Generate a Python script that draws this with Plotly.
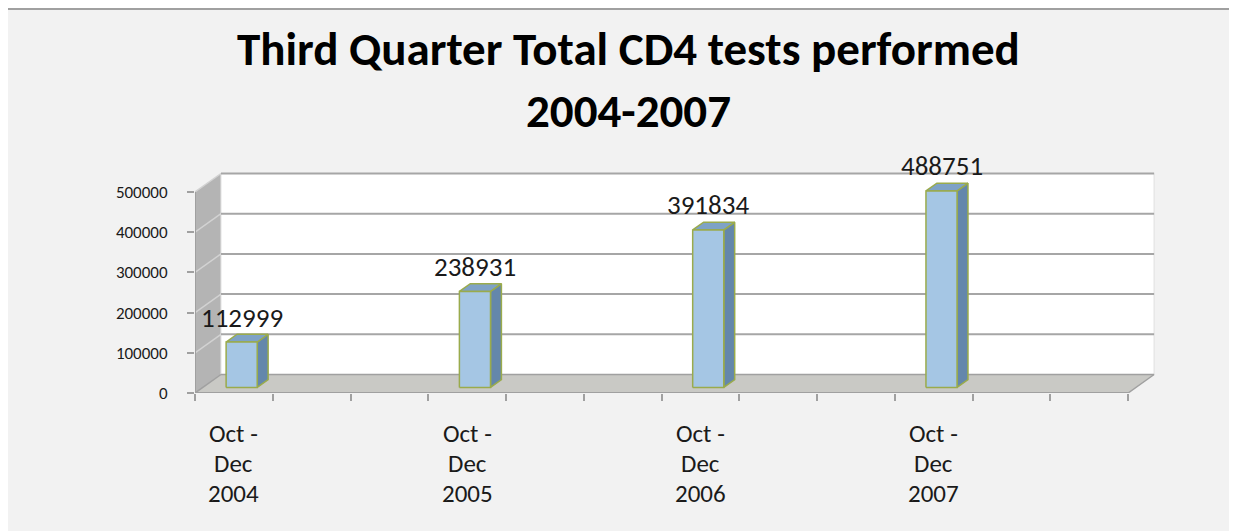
import plotly.graph_objects as go

# chart data
TITLE_LINES = ["Third Quarter Total CD4 tests performed", "2004-2007"]
PERIODS = [
    ["Oct -", "Dec", "2004"],
    ["Oct -", "Dec", "2005"],
    ["Oct -", "Dec", "2006"],
    ["Oct -", "Dec", "2007"],
]
CD4_TESTS = [112999, 238931, 391834, 488751]
Y_TICKS = [0, 100000, 200000, 300000, 400000, 500000]

# layout / pseudo-3D geometry
N_SLOTS = 12          # category slots on the floor, bars every SLOT_STEP
SLOT_STEP = 3
DX = 0.334            # depth offset in slot units
DY = 46000            # depth offset in value units
D0, D1 = 0.30, 0.72   # bar front / back depth
HALF_W = 0.2

OFF = 8               # page body margin
W, H = 1237 - OFF, 531 - OFF
ML, MR, MT, MB = 187, 70, 142, 138
X0, X1 = -0.5, 12.0
PLOT_W = W - ML - MR
PLOT_H = H - MT - MB
Y_MAX = PLOT_H / 40.2 * 100000

FONT = "Carlito, Calibri, Lato, sans-serif"
GRID = "#a6a6a6"
EDGE = "#a0a0a0"
OUTLINE = "#9aab4c"


def px_x(p):
    # screen pixel -> paper x
    return (p - OFF - ML) / PLOT_W


def px_y(p):
    return (H - MB - (p - OFF)) / PLOT_H


fig = go.Figure()


def poly(xs, ys, fill, line_color=None, line_width=0):
    fig.add_trace(go.Scatter(
        x=list(xs) + [xs[0]], y=list(ys) + [ys[0]],
        mode="lines", fill="toself", fillcolor=fill,
        line=dict(color=line_color or fill, width=line_width),
        hoverinfo="skip", showlegend=False,
    ))


def lines(segs, color, width):
    xs, ys = [], []
    for (xa, ya), (xb, yb) in segs:
        xs += [xa, xb, None]
        ys += [ya, yb, None]
    fig.add_trace(go.Scatter(x=xs, y=ys, mode="lines",
                             line=dict(color=color, width=width),
                             hoverinfo="skip", showlegend=False))


left, right = -0.5, N_SLOTS - 0.5
top = Y_TICKS[-1]

# side wall
poly([left, left, left + DX, left + DX], [0, top, top + DY, DY], "#b4b4b4")
lines([((left, v), (left + DX, v + DY)) for v in Y_TICKS[1:]], "#d2d2d2", 1.5)

# back wall
poly([left + DX, right + DX, right + DX, left + DX], [DY, DY, top + DY, top + DY],
     "#ffffff", "#e0e0e0", 1)
lines([((left + DX, v + DY), (right + DX, v + DY)) for v in Y_TICKS[1:]], GRID, 2)

# floor
poly([left, right, right + DX, left + DX], [0, 0, DY, DY], "#c9c9c5")
lines([((left + DX, DY), (right + DX, DY)), ((right, 0), (right + DX, DY)),
       ((left, 0), (left + DX, DY))], EDGE, 1.5)

# bars
for i, v in enumerate(CD4_TESTS):
    c = i * SLOT_STEP
    xl, xr = c - HALF_W, c + HALF_W
    poly([xr + D0 * DX, xr + D1 * DX, xr + D1 * DX, xr + D0 * DX],
         [D0 * DY, D1 * DY, v + D1 * DY, v + D0 * DY], "#6487ab", OUTLINE, 1.5)
    poly([xl + D0 * DX, xr + D0 * DX, xr + D1 * DX, xl + D1 * DX],
         [v + D0 * DY, v + D0 * DY, v + D1 * DY, v + D1 * DY], "#7ea2c6", OUTLINE, 1.5)
    poly([xl + D0 * DX, xr + D0 * DX, xr + D0 * DX, xl + D0 * DX],
         [D0 * DY, D0 * DY, v + D0 * DY, v + D0 * DY], "#a5c6e4", OUTLINE, 1.5)
    fig.add_annotation(x=c + D0 * DX, y=v + D0 * DY, yshift=25, text=str(v),
                       showarrow=False, yanchor="middle",
                       font=dict(family=FONT, size=27, color="#1a1a1a"))
    for k, line in enumerate(PERIODS[i]):
        fig.add_annotation(x=c, y=0, yshift=-(40 + 30 * k), text=line,
                           showarrow=False, yanchor="middle",
                           font=dict(family=FONT, size=25, color="#1a1a1a"))

# front axis lines
lines([((left, 0), (right, 0)), ((left, 0), (left, top))], EDGE, 2)

# title, two lines set tight like the original
fig.add_annotation(xref="paper", yref="paper", x=px_x(628), y=px_y(80),
                   text=f"<b>{TITLE_LINES[0]}</b>", showarrow=False, yanchor="bottom",
                   font=dict(family=FONT, size=47, color="#000000"))
fig.add_annotation(xref="paper", yref="paper", x=px_x(628), y=px_y(80),
                   text=f"<b>{TITLE_LINES[1]}</b>", showarrow=False, yanchor="top",
                   font=dict(family=FONT, size=47, color="#000000"))

# outer chart frame
fig.add_shape(type="rect", xref="paper", yref="paper", layer="below",
              x0=px_x(7), x1=px_x(1237 + 10), y0=px_y(531 + 10), y1=px_y(9),
              fillcolor="#f2f2f2", line=dict(color=EDGE, width=2))

fig.update_layout(
    width=W, height=H,
    margin=dict(l=ML, r=MR, t=MT, b=MB),
    paper_bgcolor="#ffffff",
    plot_bgcolor="rgba(0,0,0,0)",
    showlegend=False,
    xaxis=dict(range=[X0, X1], showgrid=False, zeroline=False, showline=False,
               tickmode="array", tickvals=[left + k for k in range(N_SLOTS + 1)],
               showticklabels=False, ticks="outside", ticklen=7, tickwidth=2,
               tickcolor=EDGE, fixedrange=True),
    yaxis=dict(range=[0, Y_MAX], showgrid=False, zeroline=False, showline=False,
               tickmode="array", tickvals=Y_TICKS, ticktext=[str(v) for v in Y_TICKS],
               ticks="outside", ticklen=7, tickwidth=2, tickcolor=EDGE,
               ticklabelstandoff=16,
               tickfont=dict(family=FONT, size=17, color="#1a1a1a"), fixedrange=True),
)

fig.write_html("out.html")
